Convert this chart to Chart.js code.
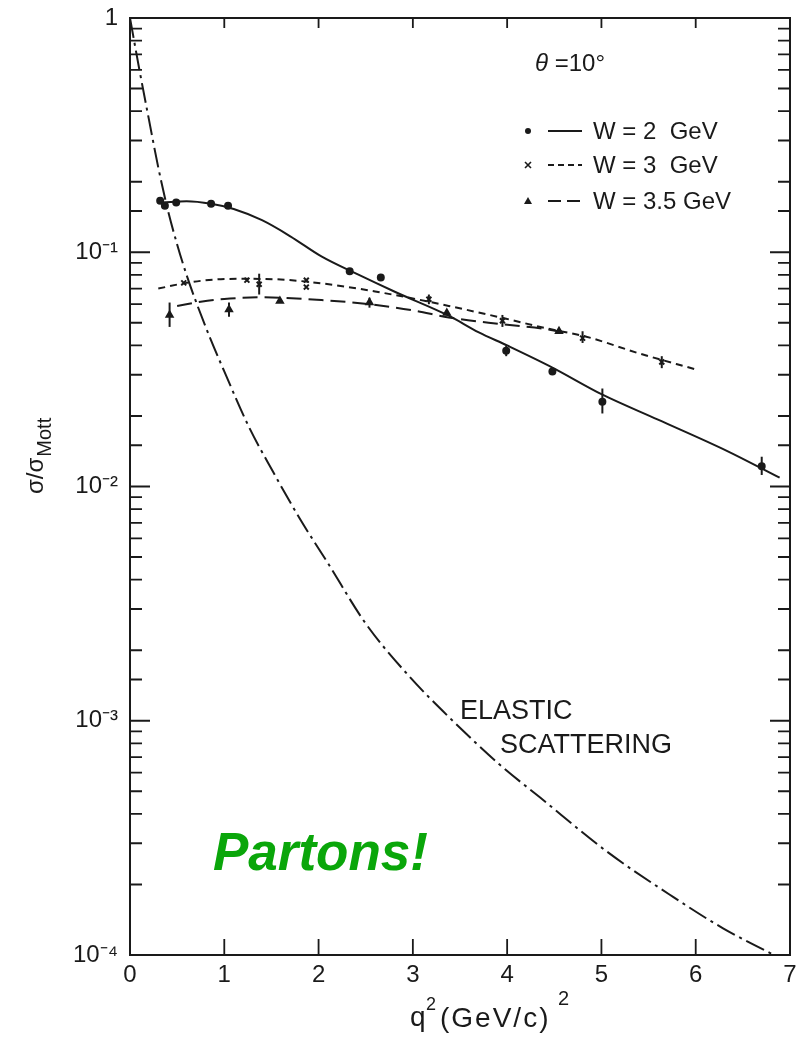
<!DOCTYPE html>
<html>
<head>
<meta charset="utf-8">
<script src="https://cdn.jsdelivr.net/npm/chart.js@4.4.0/dist/chart.umd.min.js"></script>
<style>
  html, body { margin: 0; padding: 0; background: #fff; }
</style>
</head>
<body>
<canvas id="chart" width="798" height="1044"></canvas>
<script>
// measured points, q^2 in (GeV/c)^2 and sigma/sigma_Mott
const w2X = [0.32, 0.37, 0.49, 0.86, 1.04, 2.33, 2.66, 3.99, 4.48, 5.01, 6.70];
const w2Y = [0.166, 0.158, 0.163, 0.161, 0.158, 0.083, 0.078, 0.038, 0.031, 0.023, 0.0122];
const w2Lo = [0, 0, 0, 0, 0, 0, 0, 0.036, 0, 0.0205, 0.0112];
const w2Hi = [0, 0, 0, 0, 0, 0, 0, 0.040, 0, 0.0262, 0.0134];

const w3X = [0.57, 1.24, 1.37, 1.87, 1.87, 3.17, 3.95, 4.80, 5.64];
const w3Y = [0.074, 0.076, 0.073, 0.076, 0.071, 0.063, 0.051, 0.043, 0.034];
const w3Lo = [0, 0, 0.066, 0, 0, 0.060, 0.048, 0.041, 0.032];
const w3Hi = [0, 0, 0.081, 0, 0, 0.066, 0.054, 0.046, 0.036];

const w35X = [0.42, 1.05, 1.59, 2.54, 3.36, 4.55];
const w35Y = [0.054, 0.057, 0.062, 0.061, 0.055, 0.046];
const w35Lo = [0.048, 0.053, 0, 0.058, 0, 0];
const w35Hi = [0.061, 0.061, 0, 0.064, 0, 0];

// fitted curves
const fit2X = [0.35, 0.6, 0.86, 1.1, 1.4, 1.7, 2.03, 2.4, 2.82, 3.38, 3.7, 4.0, 4.48, 5.0, 5.6, 6.33, 6.89];
const fit2Y = [0.163, 0.165, 0.161, 0.153, 0.137, 0.117, 0.096, 0.081, 0.0675, 0.0536, 0.0455, 0.040, 0.0322, 0.0248, 0.0193, 0.0142, 0.0109];

const fit3X = [0.30, 0.6, 0.9, 1.22, 1.6, 2.07, 2.6, 3.0, 3.38, 3.99, 4.4, 4.84, 5.4, 5.99];
const fit3Y = [0.070, 0.074, 0.0765, 0.077, 0.0765, 0.0733, 0.068, 0.0635, 0.059, 0.052, 0.0475, 0.0436, 0.037, 0.0317];

const fit35X = [0.5, 0.75, 1.0, 1.4, 2.03, 2.54, 3.0, 3.38, 3.9, 4.41, 4.6];
const fit35Y = [0.059, 0.0615, 0.0632, 0.0642, 0.0625, 0.060, 0.0565, 0.0527, 0.0495, 0.047, 0.0455];

const elasticX = [0, 0.1, 0.2, 0.3, 0.4, 0.5, 0.6, 0.7, 0.85, 1.0, 1.26, 1.51, 1.8, 2.1, 2.5, 2.96, 3.39, 3.92, 4.35, 5.06, 5.76, 6.29, 6.83];
const elasticY = [1.0, 0.6, 0.37, 0.23, 0.152, 0.108, 0.08, 0.0615, 0.043, 0.031, 0.018, 0.0117, 0.0073, 0.0047, 0.0026, 0.00155, 0.00103, 0.00065, 0.00047, 0.000276, 0.000177, 0.00013, 0.0001];

const xTicks = [0, 1, 2, 3, 4, 5, 6, 7];
const legendRows = ['W = 2  GeV', 'W = 3  GeV', 'W = 3.5 GeV'];

const ink = '#1a1a1a';
const font = "'Liberation Sans', Arial, sans-serif";

function pts(xs, ys) {
  return xs.map((x, i) => ({ x: x, y: ys[i] }));
}

function supText(n) {
  const map = { '-': '\u207B', '0': '\u2070', '1': '\u00B9', '2': '\u00B2', '3': '\u00B3', '4': '\u2074' };
  return String(n).split('').map(c => map[c]).join('');
}

function curve(xs, ys, dash) {
  return {
    data: pts(xs, ys), showLine: true, pointRadius: 0,
    borderColor: ink, borderWidth: 2, borderDash: dash,
    cubicInterpolationMode: 'monotone', fill: false
  };
}

function marks(xs, ys, lo, hi, style, r) {
  return {
    data: pts(xs, ys), showLine: false, pointStyle: style, pointRadius: r,
    backgroundColor: ink, borderColor: ink, borderWidth: 2,
    errLo: lo, errHi: hi
  };
}

const decor = {
  id: 'decor',
  afterDatasetsDraw(chart) {
    const { ctx, chartArea: a, scales: { x, y } } = chart;
    ctx.save();
    ctx.strokeStyle = ink;
    ctx.fillStyle = ink;

    // error bars
    ctx.lineWidth = 2;
    chart.data.datasets.forEach(ds => {
      if (!ds.errLo) return;
      ds.data.forEach((p, i) => {
        if (!ds.errLo[i]) return;
        const px = x.getPixelForValue(p.x);
        ctx.beginPath();
        ctx.moveTo(px, y.getPixelForValue(ds.errLo[i]));
        ctx.lineTo(px, y.getPixelForValue(ds.errHi[i]));
        ctx.stroke();
      });
    });

    // top and right frame
    ctx.beginPath();
    ctx.moveTo(a.left, a.top);
    ctx.lineTo(a.right, a.top);
    ctx.lineTo(a.right, a.bottom);
    ctx.stroke();

    // inward ticks
    ctx.lineWidth = 1.8;
    xTicks.slice(1, -1).forEach(v => {
      const px = x.getPixelForValue(v);
      ctx.beginPath();
      ctx.moveTo(px, a.bottom); ctx.lineTo(px, a.bottom - 16);
      ctx.moveTo(px, a.top); ctx.lineTo(px, a.top + 10);
      ctx.stroke();
    });
    y.ticks.forEach(t => {
      const py = y.getPixelForValue(t.value);
      const l = Math.log10(t.value);
      const major = Math.abs(l - Math.round(l)) < 1e-6;
      const len = major ? 20 : 12;
      ctx.beginPath();
      ctx.moveTo(a.left, py); ctx.lineTo(a.left + len, py);
      ctx.moveTo(a.right, py); ctx.lineTo(a.right - len, py);
      ctx.stroke();
    });

    // x axis title: q^2 (GeV/c)^2
    ctx.textAlign = 'left';
    ctx.textBaseline = 'alphabetic';
    ctx.font = '28px ' + font;
    ctx.fillText('q', 410, 1026);
    ctx.font = '18px ' + font;
    ctx.fillText('2', 426, 1010);
    ctx.font = '28px ' + font;
    ctx.letterSpacing = '2px';
    ctx.fillText('(GeV/c)', 440, 1027);
    ctx.letterSpacing = '0px';
    ctx.font = '20px ' + font;
    ctx.fillText('2', 558, 1005);

    // y axis title: sigma / sigma_Mott
    ctx.save();
    ctx.translate(36, 494);
    ctx.rotate(-Math.PI / 2);
    ctx.textBaseline = 'middle';
    ctx.font = '24px ' + font;
    ctx.fillText('\u03C3/\u03C3', 0, 0);
    const w = ctx.measureText('\u03C3/\u03C3').width;
    ctx.font = '20px ' + font;
    ctx.fillText('Mott', w + 1, 9);
    ctx.restore();

    // angle note
    ctx.textBaseline = 'middle';
    ctx.textAlign = 'left';
    ctx.font = 'italic 24px ' + font;
    ctx.fillText('\u03B8', 535, 64);
    ctx.font = '24px ' + font;
    ctx.fillText(' =10\u00B0', 548, 64);

    // legend
    const rowY = [131, 165, 201];
    const dashes = [[], [6, 4], [13, 6]];
    legendRows.forEach((label, i) => {
      const yy = rowY[i];
      if (i === 0) {
        ctx.beginPath(); ctx.arc(528, yy, 3, 0, Math.PI * 2); ctx.fill();
      } else if (i === 1) {
        ctx.lineWidth = 1.6;
        ctx.beginPath();
        ctx.moveTo(525, yy - 3); ctx.lineTo(531, yy + 3);
        ctx.moveTo(531, yy - 3); ctx.lineTo(525, yy + 3);
        ctx.stroke();
      } else {
        ctx.beginPath();
        ctx.moveTo(528, yy - 4); ctx.lineTo(532, yy + 3); ctx.lineTo(524, yy + 3);
        ctx.closePath(); ctx.fill();
      }
      ctx.lineWidth = 1.8;
      ctx.setLineDash(dashes[i]);
      ctx.beginPath(); ctx.moveTo(548, yy); ctx.lineTo(582, yy); ctx.stroke();
      ctx.setLineDash([]);
      ctx.font = '24px ' + font;
      ctx.fillText(label, 593, yy + 1);
    });

    // curve label
    ctx.font = '27px ' + font;
    ctx.fillText('ELASTIC', 460, 712);
    ctx.fillText('SCATTERING', 500, 746);

    // annotation
    ctx.fillStyle = '#0aa60a';
    ctx.textBaseline = 'alphabetic';
    ctx.font = 'italic bold 53px ' + font;
    ctx.fillText('Partons!', 213, 870);

    ctx.restore();
  }
};

new Chart(document.getElementById('chart').getContext('2d'), {
  type: 'scatter',
  data: {
    datasets: [
      curve(elasticX, elasticY, [20, 5, 3, 5]),
      curve(fit2X, fit2Y, []),
      curve(fit3X, fit3Y, [7, 5]),
      curve(fit35X, fit35Y, [15, 7]),
      marks(w2X, w2Y, w2Lo, w2Hi, 'circle', 3),
      marks(w3X, w3Y, w3Lo, w3Hi, 'crossRot', 3.5),
      marks(w35X, w35Y, w35Lo, w35Hi, 'triangle', 3.5)
    ]
  },
  options: {
    responsive: false,
    animation: false,
    layout: { padding: { top: 18, right: 8, left: 0, bottom: 0 } },
    plugins: { legend: { display: false }, tooltip: { enabled: false } },
    scales: {
      x: {
        type: 'linear', min: 0, max: 7,
        afterBuildTicks(s) { s.ticks = xTicks.map(v => ({ value: v })); },
        ticks: { padding: 6, color: ink, font: { family: font, size: 24 } },
        grid: { display: false, drawTicks: false },
        border: { display: true, color: ink, width: 2 },
        afterFit(s) { s.height = 89; s.paddingLeft = 0; s.paddingRight = 0; }
      },
      y: {
        type: 'logarithmic', min: 1e-4, max: 1,
        ticks: {
          autoSkip: false, padding: 12, color: ink, font: { family: font, size: 24 },
          callback(v) {
            const l = Math.log10(v);
            if (Math.abs(l - Math.round(l)) > 1e-6) return '';
            const n = Math.round(l);
            return n === 0 ? '1' : '10' + supText(n);
          }
        },
        grid: { display: false, drawTicks: false },
        border: { display: true, color: ink, width: 2 },
        afterFit(s) { s.width = 130; s.paddingTop = 0; s.paddingBottom = 0; }
      }
    }
  },
  plugins: [decor]
});
</script>
</body>
</html>
